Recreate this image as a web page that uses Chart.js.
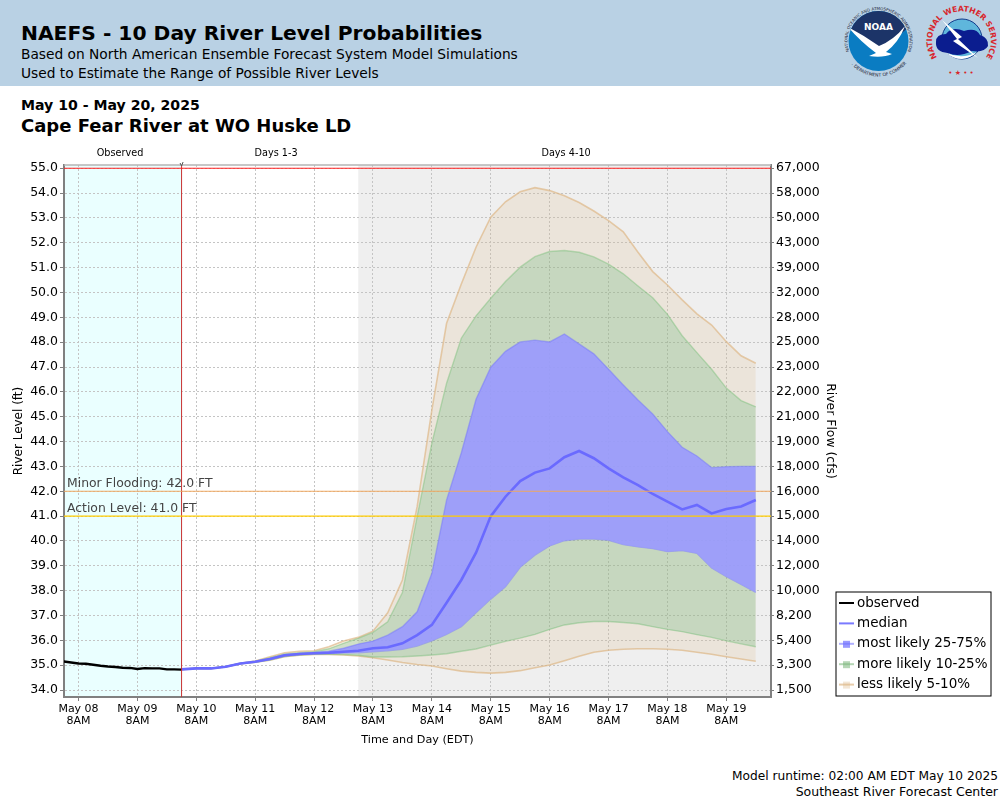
<!DOCTYPE html>
<html>
<head>
<meta charset="utf-8">
<title>NAEFS - 10 Day River Level Probabilities</title>
<script src="https://cdn.jsdelivr.net/npm/chart.js@4"></script>
<style>
    html, body { margin: 0; padding: 0; background: #fff; }
    body { width: 1000px; height: 800px; position: relative; overflow: hidden; font-family: "DejaVu Sans", sans-serif; color: #000; }
    #cabecera { position: absolute; left: 0; top: 0; width: 1000px; height: 86px; background: #b9d1e4; }
    .txt { position: absolute; white-space: nowrap; line-height: 1; }
    canvas { position: absolute; left: 0; top: 0; }
    svg { position: absolute; left: 0; top: 0; }
</style>
</head>
<body>
<div id="cabecera"></div>
<svg width="1000" height="86" viewBox="0 0 1000 86">
    <defs>
        <path id="arcoNoaaTop" d="M 849.4 51.6 A 31 31 0 1 1 907.6 51.6"/>
        <path id="arcoNoaaBot" d="M 851.2 64 A 36 36 0 0 0 905.8 64"/>
        <path id="arcoNwsTop" d="M 941 62 A 29.5 29.5 0 1 1 982 62"/>
        <clipPath id="discoNoaa"><circle cx="878.5" cy="41" r="30"/></clipPath>
    </defs>
    <g clip-path="url(#discoNoaa)">
        <rect x="848" y="11" width="61" height="60" fill="#0a7cc2"/>
        <path d="M 848 11 H 909 V 27 Q 892 42 879 47 Q 865 40 849 28 Z" fill="#1c3468"/>
        <path d="M 848 27 Q 865 36 879 46 Q 894 40 905 26 Q 899 42 886 52 L 892 54 Q 883 58 869 56 L 876 53 Q 861 42 848 27 Z" fill="#fff"/>
    </g>
    <text x="878.5" y="30" text-anchor="middle" font-family="DejaVu Sans" font-size="9" font-weight="bold" fill="#fff">NOAA</text>
    <text font-family="DejaVu Sans" font-size="4.1" fill="#223"><textPath href="#arcoNoaaTop" startOffset="50%" text-anchor="middle">NATIONAL OCEANIC AND ATMOSPHERIC ADMINISTRATION</textPath></text>
    <text font-family="DejaVu Sans" font-size="4.5" fill="#223"><textPath href="#arcoNoaaBot" startOffset="50%" text-anchor="middle">U.S. DEPARTMENT OF COMMERCE</textPath></text>

    <circle cx="962" cy="39" r="20" fill="#5fb6dc" stroke="#123a8c" stroke-width="1"/>
    <path d="M 936 42 Q 936 34 946 34 Q 952 26 964 31 Q 976 27 980 35 Q 989 38 988 46 Q 984 53 972 51 Q 958 58 948 53 Q 935 52 936 42 Z" fill="#0b1d8f"/>
    <path d="M 947 53 Q 962 60 977 52 Q 971 58 962 59 Q 953 59 947 53 Z" fill="#fff"/>
    <path d="M 942 20 L 962 37 L 958 39 L 978 58 L 953 41 L 957 39 Z" fill="#fff"/>
    <text font-family="DejaVu Sans" font-size="7.7" font-weight="bold" fill="#d8262c"><textPath href="#arcoNwsTop" startOffset="50%" text-anchor="middle">NATIONAL WEATHER SERVICE</textPath></text>
    <text x="961" y="75" text-anchor="middle" font-family="DejaVu Sans" font-size="7" fill="#d8262c">• ★ • •</text>
</svg>
<div class="txt" style="left:21px;top:23px;font-size:20.25px;font-weight:bold;">NAEFS - 10 Day River Level Probabilities</div>
<div class="txt" style="left:21px;top:48px;font-size:13.75px;">Based on North American Ensemble Forecast System Model Simulations</div>
<div class="txt" style="left:21px;top:67px;font-size:13.75px;">Used to Estimate the Range of Possible River Levels</div>
<div class="txt" style="left:21px;top:98px;font-size:14.1px;font-weight:bold;">May 10 - May 20, 2025</div>
<div class="txt" style="left:21px;top:117px;font-size:18px;font-weight:bold;">Cape Fear River at WO Huske LD</div>
<div class="txt" style="right:2px;top:770px;font-size:12.2px;">Model runtime: 02:00 AM EDT May 10 2025</div>
<div class="txt" style="right:2px;top:786px;font-size:12.5px;">Southeast River Forecast Center</div>
<canvas id="grafica" width="1000" height="800"></canvas>
<script>
// horas desde May 08 8AM
const horas = [42, 48, 54, 60, 66, 72, 78, 84, 90, 96, 102, 108, 114, 120, 126, 132, 138, 144, 150, 156, 162, 168, 174, 180, 186, 192, 198, 204, 210, 216, 222, 228, 234, 240, 246, 252, 258, 264, 270, 276];
const median = [34.83, 34.87, 34.87, 34.94, 35.07, 35.14, 35.25, 35.40, 35.45, 35.48, 35.50, 35.54, 35.58, 35.68, 35.72, 35.88, 36.21, 36.62, 37.51, 38.43, 39.53, 41.00, 41.78, 42.41, 42.75, 42.92, 43.37, 43.62, 43.33, 42.92, 42.56, 42.25, 41.89, 41.58, 41.27, 41.45, 41.11, 41.29, 41.39, 41.65];
const p95 = [34.84, 34.88, 34.88, 34.95, 35.08, 35.17, 35.34, 35.50, 35.56, 35.58, 35.74, 35.97, 36.12, 36.37, 37.11, 38.43, 41.38, 45.27, 48.76, 50.34, 51.82, 53.03, 53.65, 54.05, 54.22, 54.10, 53.89, 53.62, 53.28, 52.89, 52.44, 51.62, 50.84, 50.30, 49.70, 49.14, 48.69, 48.02, 47.45, 47.15];
const p90 = [34.84, 34.88, 34.88, 34.95, 35.08, 35.16, 35.30, 35.45, 35.50, 35.54, 35.66, 35.88, 36.08, 36.32, 36.75, 37.92, 40.98, 43.94, 46.35, 48.16, 49.06, 49.77, 50.44, 51.02, 51.44, 51.65, 51.69, 51.62, 51.43, 51.14, 50.75, 50.26, 49.79, 49.12, 48.26, 47.58, 46.91, 46.15, 45.65, 45.40];
const p75 = [34.84, 34.88, 34.88, 34.95, 35.08, 35.15, 35.27, 35.42, 35.47, 35.51, 35.56, 35.68, 35.85, 35.97, 36.21, 36.55, 37.15, 38.70, 41.65, 43.55, 45.70, 46.99, 47.63, 48.01, 48.08, 48.01, 48.33, 47.93, 47.53, 46.91, 46.28, 45.67, 45.11, 44.40, 43.77, 43.42, 42.95, 42.99, 43.00, 43.00];
const p25 = [34.82, 34.86, 34.86, 34.93, 35.06, 35.13, 35.23, 35.37, 35.43, 35.46, 35.47, 35.49, 35.50, 35.54, 35.58, 35.64, 35.77, 35.98, 36.24, 36.55, 37.11, 37.66, 38.16, 38.94, 39.43, 39.80, 40.01, 40.08, 40.08, 40.03, 39.85, 39.76, 39.69, 39.57, 39.61, 39.50, 38.91, 38.56, 38.25, 37.93];
const p10 = [34.82, 34.86, 34.86, 34.93, 35.06, 35.12, 35.21, 35.35, 35.41, 35.44, 35.44, 35.43, 35.40, 35.33, 35.33, 35.34, 35.37, 35.41, 35.46, 35.56, 35.65, 35.81, 35.96, 36.09, 36.24, 36.44, 36.62, 36.71, 36.76, 36.76, 36.72, 36.67, 36.55, 36.44, 36.35, 36.23, 36.12, 35.98, 35.86, 35.74];
const p5 = [34.82, 34.86, 34.86, 34.93, 35.06, 35.12, 35.20, 35.34, 35.40, 35.43, 35.43, 35.41, 35.37, 35.30, 35.21, 35.11, 35.03, 34.97, 34.86, 34.76, 34.71, 34.68, 34.71, 34.78, 34.90, 35.01, 35.18, 35.36, 35.52, 35.60, 35.64, 35.66, 35.66, 35.64, 35.60, 35.52, 35.44, 35.34, 35.25, 35.16];

const horasObs = [-6, -3, 0, 3, 6, 9, 12, 15, 18, 21, 24, 27, 30, 33, 36, 39, 42];
const observado = [35.15, 35.11, 35.07, 35.06, 35.02, 34.98, 34.95, 34.93, 34.90, 34.89, 34.85, 34.88, 34.87, 34.87, 34.83, 34.83, 34.82];

const dias = ['May 08', 'May 09', 'May 10', 'May 11', 'May 12', 'May 13', 'May 14', 'May 15', 'May 16', 'May 17', 'May 18', 'May 19'];
const caudales = ['1,500', '3,300', '5,400', '8,200', '10,000', '12,000', '14,000', '15,000', '16,000', '18,000', '19,000', '21,000', '22,000', '23,000', '25,000', '28,000', '32,000', '39,000', '43,000', '50,000', '58,000', '67,000'];

const nivelTope = 55;
const nivelMenor = 42;
const nivelAccion = 41;
const finObservado = 42;
const inicioDias4 = 114;

const xMin = -5.91, xMax = 282.2;
const yMin = 33.72, yMax = 55.13;

const puntos = (xs, ys) => xs.map((x, i) => ({ x: x, y: ys[i] }));
const serie = (label, data, color, ancho, extra) => Object.assign({
    label: label, data: data, borderColor: color, borderWidth: ancho,
    pointRadius: 0, tension: 0, fill: false, yAxisID: 'y'
}, extra || {});

const leyenda = [
    { texto: 'observed', color: '#000', ancho: 2 },
    { texto: 'median', color: '#7a7aff', ancho: 2 },
    { texto: 'most likely 25-75%', color: 'rgba(110,110,255,0.55)', ancho: 2, caja: 'rgba(110,110,255,0.7)' },
    { texto: 'more likely 10-25%', color: 'rgba(120,180,120,0.55)', ancho: 2, caja: 'rgba(120,180,120,0.55)' },
    { texto: 'less likely 5-10%', color: 'rgba(222,184,135,0.7)', ancho: 2, caja: 'rgba(222,184,135,0.35)' }
];

const fondos = {
    id: 'fondos',
    beforeDraw(chart) {
        const { ctx, chartArea: a, scales: { x } } = chart;
        ctx.save();
        ctx.fillStyle = '#eaffff';
        ctx.fillRect(a.left, a.top, x.getPixelForValue(finObservado) - a.left, a.height);
        ctx.fillStyle = '#efefef';
        const g = x.getPixelForValue(inicioDias4);
        ctx.fillRect(g, a.top, a.right - g, a.height);
        ctx.restore();
    }
};

const textos = {
    id: 'textos',
    afterDraw(chart) {
        const { ctx, chartArea: a, scales: { x, y } } = chart;
        ctx.save();
        // borde superior
        ctx.strokeStyle = '#b4b4b4';
        ctx.lineWidth = 1.5;
        ctx.beginPath();
        ctx.moveTo(a.left, a.top);
        ctx.lineTo(a.right, a.top);
        ctx.stroke();

        // marca sobre la linea de inicio del pronostico
        const xf = x.getPixelForValue(finObservado);
        ctx.strokeStyle = '#555';
        ctx.lineWidth = 1;
        ctx.beginPath();
        ctx.moveTo(xf - 1.5, a.top - 2);
        ctx.lineTo(xf, a.top + 1);
        ctx.lineTo(xf + 1.5, a.top - 3);
        ctx.stroke();

        ctx.textBaseline = 'middle';
        ctx.textAlign = 'center';
        ctx.fillStyle = '#000';
        ctx.font = '9.7px "DejaVu Sans"';
        ctx.fillText('Observed', x.getPixelForValue(16.9), 153.5);
        ctx.fillText('Days 1-3', x.getPixelForValue(80.5), 153.5);
        ctx.fillText('Days 4-10', x.getPixelForValue(198.7), 153.5);

        ctx.textAlign = 'left';
        ctx.fillStyle = '#444';
        ctx.font = '12.4px "DejaVu Sans"';
        ctx.fillText('Minor Flooding: 42.0 FT', 67, y.getPixelForValue(nivelMenor) - 7);
        ctx.fillText('Action Level: 41.0 FT', 67, y.getPixelForValue(nivelAccion) - 7);

        // leyenda
        ctx.fillStyle = '#fff';
        ctx.fillRect(836, 592, 155, 104);
        ctx.strokeStyle = '#000';
        ctx.lineWidth = 1;
        ctx.strokeRect(836, 592, 155, 104);
        ctx.font = '13.5px "DejaVu Sans"';
        leyenda.forEach((l, i) => {
            const yy = 603 + i * 20.4;
            ctx.strokeStyle = l.color;
            ctx.lineWidth = l.ancho;
            ctx.beginPath();
            ctx.moveTo(839, yy);
            ctx.lineTo(854, yy);
            ctx.stroke();
            if (l.caja) {
                ctx.fillStyle = l.caja;
                ctx.fillRect(843, yy - 3, 7, 7);
            }
            ctx.fillStyle = '#000';
            ctx.fillText(l.texto, 857, yy);
        });
        ctx.restore();
    }
};

Chart.defaults.font.family = '"DejaVu Sans"';
Chart.defaults.color = '#000';

new Chart(document.getElementById('grafica').getContext('2d'), {
    type: 'line',
    plugins: [fondos, textos],
    data: {
        datasets: [
            serie('action', [{ x: xMin, y: nivelAccion }, { x: xMax, y: nivelAccion }], '#ffcc00', 1.2),
            serie('minor', [{ x: xMin, y: nivelMenor }, { x: xMax, y: nivelMenor }], '#f0a860', 1),
            serie('top', [{ x: xMin, y: nivelTope }, { x: xMax, y: nivelTope }], '#ff2020', 1.2),
            serie('now', [{ x: finObservado, y: yMin }, { x: finObservado, y: yMax }], '#c83232', 1),
            serie('observed', puntos(horasObs, observado), '#000', 2.4),
            serie('median', puntos(horas, median), '#6a6aff', 2.6),
            serie('p75', puntos(horas, p75), 'rgba(110,110,255,0.45)', 1.4, { fill: '+1', backgroundColor: 'rgba(153,153,255,0.9)' }),
            serie('p25', puntos(horas, p25), 'rgba(110,110,255,0.45)', 1.4),
            serie('p90', puntos(horas, p90), 'rgba(120,190,120,0.45)', 1.4, { fill: '+1', backgroundColor: 'rgba(100,180,120,0.27)' }),
            serie('p10', puntos(horas, p10), 'rgba(120,190,120,0.45)', 1.4),
            serie('p95', puntos(horas, p95), 'rgba(222,184,135,0.7)', 1.6, { fill: '+1', backgroundColor: 'rgba(222,184,135,0.2)' }),
            serie('p5', puntos(horas, p5), 'rgba(222,184,135,0.7)', 1.6)
        ]
    },
    options: {
        responsive: false,
        animation: false,
        devicePixelRatio: 1,
        layout: { padding: { top: 165, left: 0, right: 0, bottom: 0 } },
        plugins: { legend: { display: false }, tooltip: { enabled: false }, title: { display: false } },
        scales: {
            x: {
                type: 'linear',
                min: xMin,
                max: xMax,
                afterFit: s => { s.height = 103; },
                afterBuildTicks: s => { s.ticks = dias.map((d, i) => ({ value: i * 24 })); },
                border: { color: '#808080', width: 2, dash: [2, 2] },
                grid: { color: '#c4c4c4', lineWidth: 1, tickColor: '#808080', tickLength: 4 },
                ticks: {
                    autoSkip: false,
                    maxRotation: 0,
                    padding: 2,
                    font: { size: 11, lineHeight: 1.1 },
                    callback: v => [dias[v / 24], '8AM']
                },
                title: { display: true, text: 'Time and Day (EDT)', font: { size: 11.2 }, padding: { top: 0, bottom: 53 } }
            },
            y: {
                type: 'linear',
                position: 'left',
                min: yMin,
                max: yMax,
                afterFit: s => { s.width = 64; },
                border: { color: '#808080', width: 2, dash: [2, 2] },
                grid: { color: '#c4c4c4', lineWidth: 1, tickColor: '#808080', tickLength: 4 },
                ticks: {
                    stepSize: 1,
                    includeBounds: false,
                    autoSkip: false,
                    padding: 2,
                    font: { size: 12.5 },
                    callback: v => v.toFixed(1)
                },
                title: { display: true, text: 'River Level (ft)', font: { size: 12 }, padding: { top: 12, bottom: 0 } }
            },
            y2: {
                type: 'linear',
                position: 'right',
                min: yMin,
                max: yMax,
                afterFit: s => { s.width = 229; },
                border: { color: '#808080', width: 2 },
                grid: { drawOnChartArea: false, tickColor: '#808080', tickLength: 3 },
                ticks: {
                    stepSize: 1,
                    includeBounds: false,
                    autoSkip: false,
                    padding: 2,
                    font: { size: 12.5 },
                    callback: v => caudales[v - 34]
                },
                title: { display: true, text: 'River Flow (cfs)', font: { size: 12.4 }, padding: { top: 162, bottom: 0 } }
            }
        }
    }
});
</script>
</body>
</html>
